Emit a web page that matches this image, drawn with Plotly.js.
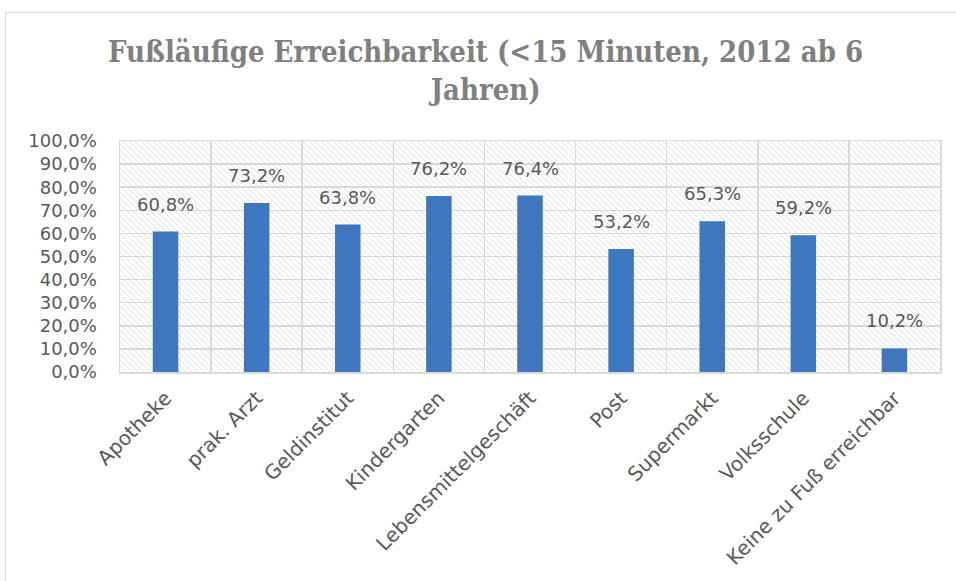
<!DOCTYPE html>
<html>
<head>
<meta charset="utf-8">
<script src="https://cdn.plot.ly/plotly-3.0.1.min.js"></script>
<style>
  html, body { margin: 0; padding: 0; background: #fff; }
  #wrap { position: relative; width: 956px; height: 581px; overflow: hidden; }
  #frame { position: absolute; left: 5px; top: 12px; width: 1000px; height: 1000px;
           border-left: 1px solid #d9d9d9; border-top: 1px solid #d9d9d9; pointer-events: none; }
  #chart { position: absolute; left: 0; top: 0; width: 956px; height: 581px; }
</style>
</head>
<body>
<div id="wrap">
  <div id="chart"></div>
  <div id="frame"></div>
</div>
<script>
const categories = ["Apotheke", "prak. Arzt", "Geldinstitut", "Kindergarten",
  "Lebensmittelgeschäft", "Post", "Supermarkt", "Volksschule", "Keine zu Fuß erreichbar"];
const values = [0.608, 0.732, 0.638, 0.762, 0.764, 0.532, 0.653, 0.592, 0.102];
const yTickVals = [0, 0.1, 0.2, 0.3, 0.4, 0.5, 0.6, 0.7, 0.8, 0.9, 1.0];
const titleText = "Fußläufige Erreichbarkeit (<15 Minuten, 2012 ab 6<br>Jahren)";

const fmt = v => (v * 100).toFixed(1).replace('.', ',') + '%';

const W = 956, H = 581;
const margin = {l: 120, r: 16, t: 141, b: 209};
const pw = W - margin.l - margin.r, ph = H - margin.t - margin.b;

// diagonal hatch background for plot area
let lines = '';
for (let k = -ph; k < pw + ph; k += 6) {
  lines += `<line x1="${k}" y1="0" x2="${k + ph}" y2="${ph}"/>`;
}
const svg = `<svg xmlns="http://www.w3.org/2000/svg" width="${pw}" height="${ph}" viewBox="0 0 ${pw} ${ph}"><g stroke="#e0e0e0" stroke-width="1">${lines}</g></svg>`;
const hatch = 'data:image/svg+xml;base64,' + btoa(svg);

const font = '"DejaVu Sans", sans-serif';
const grey = '#595959';

const trace = {
  type: 'bar',
  x: categories,
  y: values,
  marker: {color: '#3E77BD'},
  hoverinfo: 'x+y'
};

const annotations = categories.map((c, i) => ({
  x: c, y: values[i], xref: 'x', yref: 'y',
  text: fmt(values[i]), showarrow: false,
  yanchor: 'bottom', yshift: 15,
  font: {family: font, size: 18, color: grey}
}));

const layout = {
  width: W, height: H,
  margin: margin,
  paper_bgcolor: '#ffffff',
  plot_bgcolor: '#ffffff',
  separators: ',.',
  showlegend: false,
  bargap: 0.72,
  title: {
    text: titleText,
    x: 0.508, xanchor: 'center',
    y: 0.893, yanchor: 'top', yref: 'container',
    font: {family: '"DejaVu Serif Condensed", "Liberation Serif", serif', size: 29, color: '#808080', weight: 'bold'}
  },
  xaxis: {
    type: 'category',
    tickson: 'boundaries',
    ticks: '',
    tickangle: -45,
    ticklabelstandoff: 5,
    showgrid: true, gridcolor: '#d9d9d9', gridwidth: 1.5,
    showline: true, linecolor: '#d9d9d9', linewidth: 1.5, mirror: true,
    tickfont: {family: font, size: 20, color: grey},
    automargin: false
  },
  yaxis: {
    range: [0, 1],
    tickvals: yTickVals,
    tickformat: '.1%',
    ticks: '',
    ticklabelstandoff: 18,
    showgrid: true, gridcolor: '#d9d9d9', gridwidth: 1.5,
    showline: true, linecolor: '#d9d9d9', linewidth: 1.5, mirror: true,
    zeroline: false,
    tickfont: {family: font, size: 18, color: grey},
    automargin: false,
    fixedrange: true
  },
  images: [{
    source: hatch, xref: 'paper', yref: 'paper',
    x: 0, y: 1, sizex: 1, sizey: 1, xanchor: 'left', yanchor: 'top',
    sizing: 'stretch', layer: 'below'
  }],
  annotations: annotations
};

Plotly.newPlot('chart', [trace], layout, {displayModeBar: false, staticPlot: true});
</script>
</body>
</html>
